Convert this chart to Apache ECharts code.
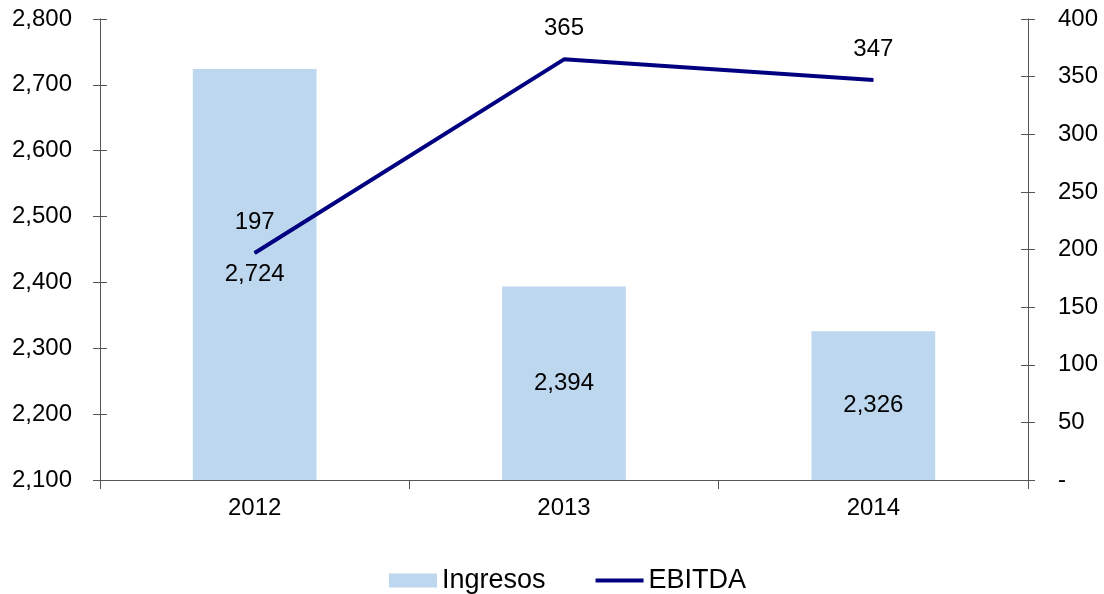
<!DOCTYPE html>
<html><head><meta charset="utf-8">
<script src="https://cdn.jsdelivr.net/npm/echarts@6/dist/echarts.min.js"></script>
<style>html,body{margin:0;padding:0;background:#fff}#c{width:1104px;height:594px}</style>
</head><body><div id="c"></div>
<script>
const categories = ['2012', '2013', '2014'];
const ingresos = [2724, 2394, 2326];
const ebitda = [197, 365, 347];
const leftTicks = {min: 2100, max: 2800, interval: 100};
const rightTicks = {min: 0, max: 400, interval: 50};

const FONT = 'Liberation Sans, Arial, sans-serif';
const fmtComma = v => Number(v).toLocaleString('en-US');
const axisCol = '#555';

const chart = echarts.init(document.getElementById('c'));
function yAx(pos, t, inside, showLabel, fmt) {
  return {
    type: 'value', position: pos, min: t.min, max: t.max, interval: t.interval,
    axisLine: {show: true, lineStyle: {color: axisCol, width: 1}},
    axisTick: {show: true, inside: inside, length: 7, lineStyle: {color: axisCol}},
    splitLine: {show: false},
    axisLabel: {show: showLabel, formatter: fmt, color: '#000', fontSize: 24, fontFamily: FONT, margin: pos === 'left' ? 28 : 30}
  };
}
chart.setOption({
  animation: false,
  textStyle: {fontFamily: FONT},
  grid: {left: 100, right: 76, top: 19, bottom: 114, containLabel: false},
  legend: {
    bottom: -5, left: 384, itemWidth: 48, itemHeight: 14, itemGap: 50,
    textStyle: {fontSize: 27, color: '#000', fontFamily: FONT},
    data: [
      {name: 'Ingresos', icon: 'rect'},
      {name: 'EBITDA', icon: 'path://M0,0H48V4H0Z'}
    ]
  },
  xAxis: {
    type: 'category', data: categories,
    axisLine: {lineStyle: {color: axisCol}},
    axisTick: {show: true, length: 9, lineStyle: {color: axisCol}},
    axisLabel: {color: '#000', fontSize: 24, fontFamily: FONT, margin: 16}
  },
  yAxis: [
    yAx('left', leftTicks, false, true, fmtComma),
    yAx('right', rightTicks, false, true, v => v === 0 ? '-' : String(v)),
    yAx('left', leftTicks, true, false),
    yAx('right', rightTicks, true, false)
  ],
  series: [
    {
      name: 'Ingresos', type: 'bar', yAxisIndex: 0, data: ingresos, barWidth: '40%',
      itemStyle: {color: '#BDD7EE'},
      label: {show: true, position: 'inside', formatter: p => fmtComma(p.value), color: '#000', fontSize: 24, fontFamily: FONT}
    },
    {
      name: 'EBITDA', type: 'line', yAxisIndex: 1, data: ebitda,
      symbol: 'circle', symbolSize: 1, showSymbol: true,
      lineStyle: {color: '#000080', width: 4}, itemStyle: {color: '#000080'},
      label: {show: true, position: 'top', distance: 18, color: '#000', fontSize: 24, fontFamily: FONT}
    }
  ]
});
</script></body></html>
